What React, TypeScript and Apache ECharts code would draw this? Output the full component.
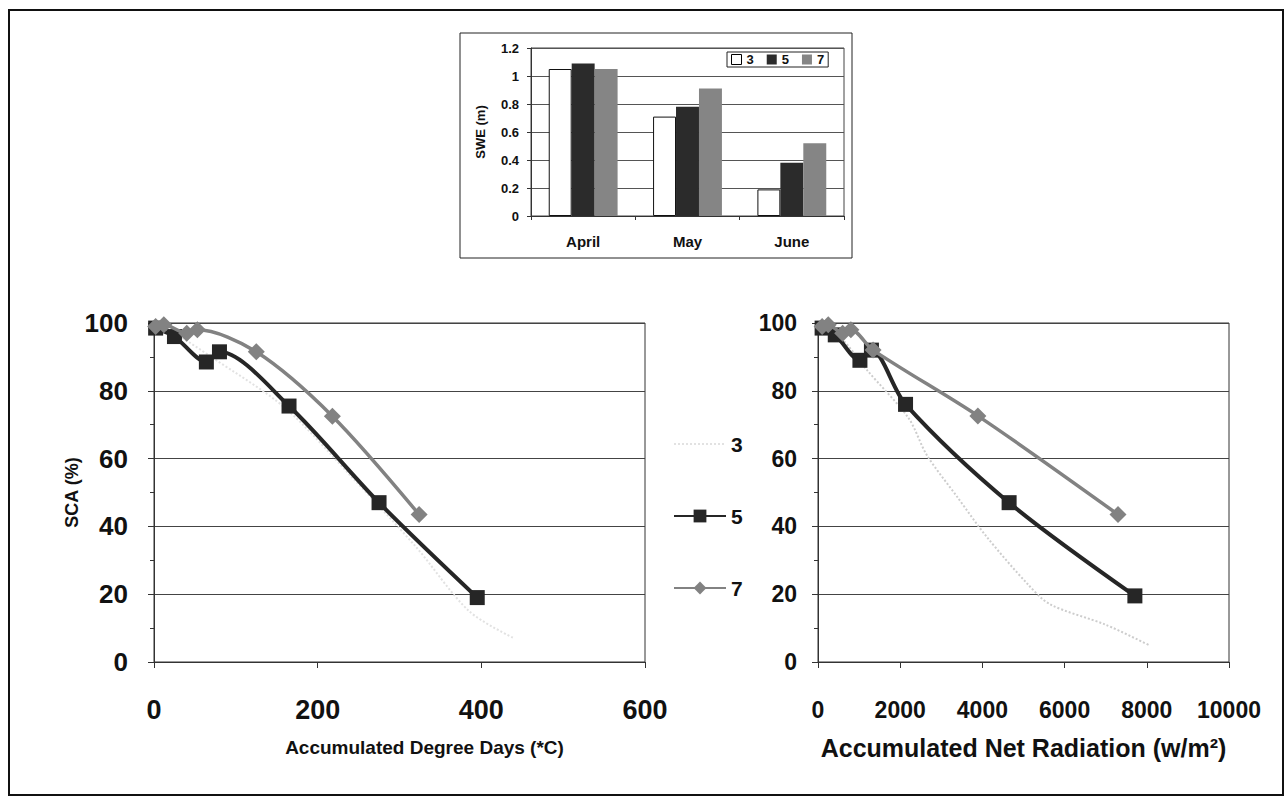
import React, { useEffect, useRef } from "react";
import * as echarts from "echarts";

// Inset bar chart data (SWE, m)
const months = ["April", "May", "June"];
const swe3 = [1.05, 0.71, 0.19];
const swe5 = [1.09, 0.78, 0.38];
const swe7 = [1.05, 0.91, 0.52];
const sweTicks = [0, 0.2, 0.4, 0.6, 0.8, 1, 1.2];

// Left chart: Accumulated Degree Days vs SCA (%)
const add3: number[][] = [[0, 100], [25, 97], [70, 90], [160, 75], [240, 55], [320, 34], [385, 15], [440, 7]];
const add5: number[][] = [[2, 98.5], [25, 96], [64, 88.5], [80, 91.5], [165, 75.5], [275, 47], [395, 19]];
const add7: number[][] = [[2, 99], [12, 99.5], [40, 97], [53, 98], [125, 91.5], [218, 72.5], [324, 43.5]];

// Right chart: Accumulated Net Radiation vs SCA (%)
const rad3: number[][] = [[0, 100], [600, 95], [1200, 86], [2200, 72], [2650, 61], [3400, 48.5], [4100, 37], [5100, 23], [5650, 17], [7000, 11], [8050, 5]];
const rad5: number[][] = [[100, 98.5], [420, 96.5], [1020, 89], [1300, 92], [2130, 76], [4650, 47], [7710, 19.5]];
const rad7: number[][] = [[100, 99], [250, 99.5], [600, 97], [800, 98], [1340, 92], [3890, 72.6], [7300, 43.5]];

const FONT = "'Liberation Sans', Arial, sans-serif";
const C5 = "#262626";
const C7 = "#828282";
const C3 = "#cdcdcd";

export default function App() {
  const ref = useRef<HTMLDivElement>(null);
  useEffect(() => {
    if (!ref.current) return;
    const chart = echarts.init(ref.current, null, { renderer: "svg" });

    const lineSeries = (name: string, data: number[][], idx: number, faint = false) => {
      if (name === "3") {
        const col = faint ? "#e2e2e2" : C3;
        return {
          name, type: "line", xAxisIndex: idx, yAxisIndex: idx, data,
          smooth: 0.3, symbol: "none", showSymbol: false,
          lineStyle: { color: col, width: 2, type: "dotted" },
          itemStyle: { color: col }, z: 2,
        };
      }
      if (name === "5") {
        return {
          name, type: "line", xAxisIndex: idx, yAxisIndex: idx, data,
          smooth: 0.3, symbol: "rect", symbolSize: 15,
          lineStyle: { color: C5, width: 4 },
          itemStyle: { color: C5 }, z: 3,
        };
      }
      return {
        name, type: "line", xAxisIndex: idx, yAxisIndex: idx, data,
        smooth: 0.3, symbol: "diamond", symbolSize: 17,
        lineStyle: { color: C7, width: 3.5 },
        itemStyle: { color: C7 }, z: 4,
      };
    };

    const valueY = (labelSize: number, margin: number, extra: any = {}) => ({
      type: "value", min: 0, max: 100, interval: 20,
      axisLine: { show: true, lineStyle: { color: "#333" } },
      axisTick: { show: true, length: 6, lineStyle: { color: "#333" } },
      minorTick: { show: true, splitNumber: 2, length: 4, lineStyle: { color: "#333" } },
      splitLine: { show: true, lineStyle: { color: "#444", width: 1 } },
      axisLabel: { fontSize: labelSize, fontWeight: "bold", color: "#111", fontFamily: FONT, margin },
      ...extra,
    });

    const plain = (v: number) => String(v);

    const option: any = {
      animation: false,
      backgroundColor: "#fff",
      textStyle: { fontFamily: FONT },
      graphic: [
        { type: "rect", shape: { x: 9, y: 10, width: 1274, height: 785 }, style: { fill: "none", stroke: "#111", lineWidth: 2 }, silent: true },
        { type: "rect", shape: { x: 460, y: 33, width: 392, height: 225 }, style: { fill: "none", stroke: "#222", lineWidth: 1 }, silent: true },
      ],
      grid: [
        { left: 531, top: 48, width: 313, height: 168, show: true, borderColor: "#444", borderWidth: 1 },
        { left: 154, top: 323, width: 491, height: 339, show: true, borderColor: "#333", borderWidth: 1 },
        { left: 818, top: 323, width: 411, height: 339, show: true, borderColor: "#333", borderWidth: 1 },
      ],
      legend: [
        {
          orient: "vertical", left: 668, top: 427, itemWidth: 52, itemHeight: 16, itemGap: 48,
          data: [
            { name: "3", itemStyle: { opacity: 0 } },
            { name: "5" },
            { name: "7" },
          ],
          textStyle: { fontSize: 21, fontWeight: "bold", color: "#111", fontFamily: FONT, lineHeight: 24 },
          selectedMode: false,
        },
        {
          orient: "horizontal", left: 727, top: 52, itemWidth: 10, itemHeight: 10, itemGap: 13,
          padding: [1, 4], borderColor: "#222", borderWidth: 1, backgroundColor: "#fff",
          data: [
            { name: "3", icon: "rect", itemStyle: { color: "#fff", borderColor: "#000", borderWidth: 1, opacity: 1 } },
            { name: "5", icon: "rect", itemStyle: { color: "#2b2b2b", borderWidth: 0 } },
            { name: "7", icon: "rect", itemStyle: { color: "#858585", borderWidth: 0 } },
          ],
          textStyle: { fontSize: 13, fontWeight: "bold", color: "#111", fontFamily: FONT },
          selectedMode: false,
        },
      ],
      xAxis: [
        {
          gridIndex: 0, type: "category", data: months,
          axisLine: { lineStyle: { color: "#333" } },
          axisTick: { show: true, length: 4, alignWithLabel: false, lineStyle: { color: "#333" } },
          axisLabel: { fontSize: 15, fontWeight: "bold", color: "#111", fontFamily: FONT, margin: 18 },
        },
        {
          gridIndex: 1, type: "value", min: 0, max: 600, interval: 200,
          axisLine: { lineStyle: { color: "#333" } },
          axisTick: { show: true, length: 6, lineStyle: { color: "#333" } },
          splitLine: { show: false },
          axisLabel: { fontSize: 27, fontWeight: "bold", color: "#111", fontFamily: FONT, margin: 34, formatter: plain },
          name: "Accumulated Degree Days (*C)", nameLocation: "middle", nameGap: 76,
          nameTextStyle: { fontSize: 19, fontWeight: "bold", color: "#111", fontFamily: FONT, padding: [0, 0, 0, 50] },
        },
        {
          gridIndex: 2, type: "value", min: 0, max: 10000, interval: 2000,
          axisLine: { lineStyle: { color: "#333" } },
          axisTick: { show: true, length: 6, lineStyle: { color: "#333" } },
          splitLine: { show: false },
          axisLabel: { fontSize: 23, fontWeight: "bold", color: "#111", fontFamily: FONT, margin: 36, formatter: plain },
          name: "Accumulated Net Radiation (w/m²)", nameLocation: "middle", nameGap: 73,
          nameTextStyle: { fontSize: 25, fontWeight: "bold", color: "#111", fontFamily: FONT },
        },
      ],
      yAxis: [
        {
          gridIndex: 0, type: "value", min: sweTicks[0], max: sweTicks[sweTicks.length - 1], interval: 0.2,
          axisLine: { show: true, lineStyle: { color: "#333" } },
          axisTick: { show: true, length: 4, lineStyle: { color: "#333" } },
          splitLine: { show: true, lineStyle: { color: "#555", width: 1 } },
          axisLabel: { fontSize: 13, fontWeight: "bold", color: "#111", fontFamily: FONT, margin: 12 },
          name: "SWE (m)", nameLocation: "middle", nameGap: 44, nameRotate: 90,
          nameTextStyle: { fontSize: 13, fontWeight: "bold", color: "#111", fontFamily: FONT },
        },
        valueY(26, 26, {
          gridIndex: 1,
          name: "SCA (%)", nameLocation: "middle", nameGap: 64, nameRotate: 90,
          nameTextStyle: { fontSize: 18, fontWeight: "bold", color: "#111", fontFamily: FONT },
        }),
        valueY(23, 21, { gridIndex: 2 }),
      ],
      series: [
        lineSeries("3", add3, 1, true),
        lineSeries("5", add5, 1),
        lineSeries("7", add7, 1),
        lineSeries("3", rad3, 2),
        lineSeries("5", rad5, 2),
        lineSeries("7", rad7, 2),
        {
          name: "3", type: "bar", xAxisIndex: 0, yAxisIndex: 0, data: swe3,
          barGap: "0%", barCategoryGap: "34%",
          itemStyle: { color: "#fff", borderColor: "#111", borderWidth: 1 },
        },
        {
          name: "5", type: "bar", xAxisIndex: 0, yAxisIndex: 0, data: swe5,
          barGap: "0%", barCategoryGap: "34%",
          itemStyle: { color: "#2b2b2b" },
        },
        {
          name: "7", type: "bar", xAxisIndex: 0, yAxisIndex: 0, data: swe7,
          barGap: "0%", barCategoryGap: "34%",
          itemStyle: { color: "#858585" },
        },
      ],
    };
    chart.setOption(option);
    return () => chart.dispose();
  }, []);

  return (
    <div
      ref={ref}
      style={{ position: "fixed", left: 0, top: 0, width: "1286px", height: "804px", background: "#fff" }}
    />
  );
}
